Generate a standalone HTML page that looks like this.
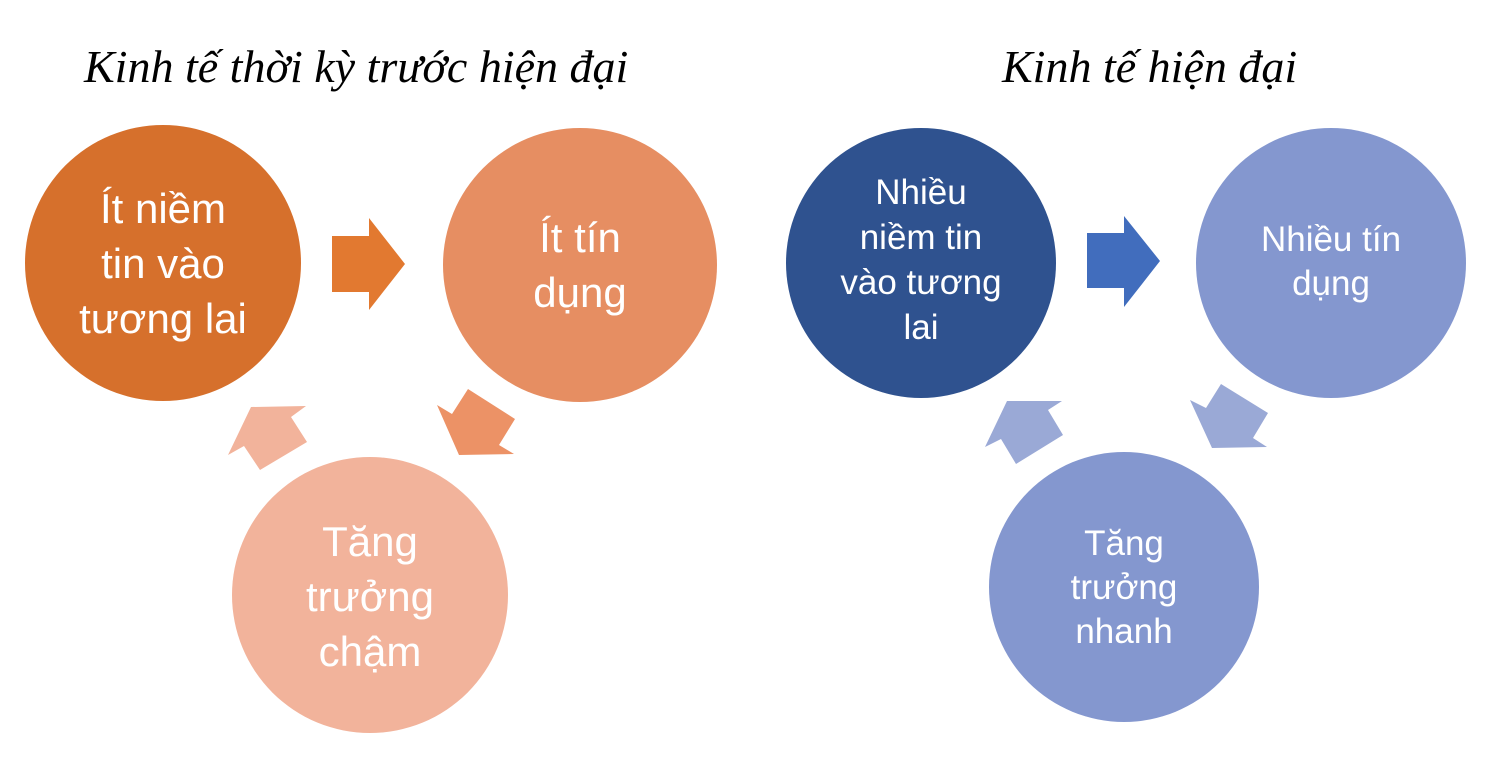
<!DOCTYPE html>
<html><head><meta charset="utf-8"><style>
html,body{margin:0;padding:0;background:#fff}
svg{display:block}
.t{font-family:"Liberation Serif",serif;font-style:italic;font-size:46px;fill:#000}
.l{font-family:"Liberation Sans","DejaVu Sans",sans-serif;font-size:42px;fill:#fff;text-anchor:middle}
.r{font-family:"Liberation Sans","DejaVu Sans",sans-serif;font-size:35px;fill:#fff;text-anchor:middle}
</style></head><body>
<svg width="1503" height="763" viewBox="0 0 1503 763" xmlns="http://www.w3.org/2000/svg">
<text class="t" x="84" y="82">Kinh tế thời kỳ trước hiện đại</text>
<text class="t" x="1002" y="82">Kinh tế hiện đại</text>

<circle cx="163" cy="263" r="138" fill="#D6702C"/>
<circle cx="580" cy="265" r="137" fill="#E68E62"/>
<circle cx="370" cy="595" r="138" fill="#F2B39B"/>
<polygon points="332,236 369,236 369,218 405,264 369,310 369,292 332,292" fill="#E27930"/>
<polygon points="437,405 452,414 468,389 515,419 499,445 514,454 459,455" fill="#EC9266"/>
<polygon points="228,455 244,446 260,470 307,442 291,417 306,406 251,407" fill="#F2B39B"/>
<text class="l" x="163" y="223">Ít niềm</text>
<text class="l" x="163" y="278">tin vào</text>
<text class="l" x="163" y="333">tương lai</text>
<text class="l" x="580" y="252">Ít tín</text>
<text class="l" x="580" y="307">dụng</text>
<text class="l" x="370" y="556">Tăng</text>
<text class="l" x="370" y="611">trưởng</text>
<text class="l" x="370" y="666">chậm</text>

<circle cx="921" cy="263" r="135" fill="#2F528F"/>
<circle cx="1331" cy="263" r="135" fill="#8497CF"/>
<circle cx="1124" cy="587" r="135" fill="#8497CF"/>
<polygon points="1087,233 1124,233 1124,216 1160,261 1124,307 1124,288 1087,288" fill="#416DBD"/>
<polygon points="1190,400 1206,408 1221,384 1268,413 1253,438 1267,447 1212,448" fill="#9AA9D6"/>
<polygon points="985,447 1001,439 1016,464 1063,435 1048,410 1062,401 1007,401" fill="#9AA9D6"/>
<text class="r" x="921" y="204">Nhiều</text>
<text class="r" x="921" y="249">niềm tin</text>
<text class="r" x="921" y="294">vào tương</text>
<text class="r" x="921" y="339">lai</text>
<text class="r" x="1331" y="251">Nhiều tín</text>
<text class="r" x="1331" y="295">dụng</text>
<text class="r" x="1124" y="555">Tăng</text>
<text class="r" x="1124" y="599">trưởng</text>
<text class="r" x="1124" y="643">nhanh</text>
</svg>
</body></html>
